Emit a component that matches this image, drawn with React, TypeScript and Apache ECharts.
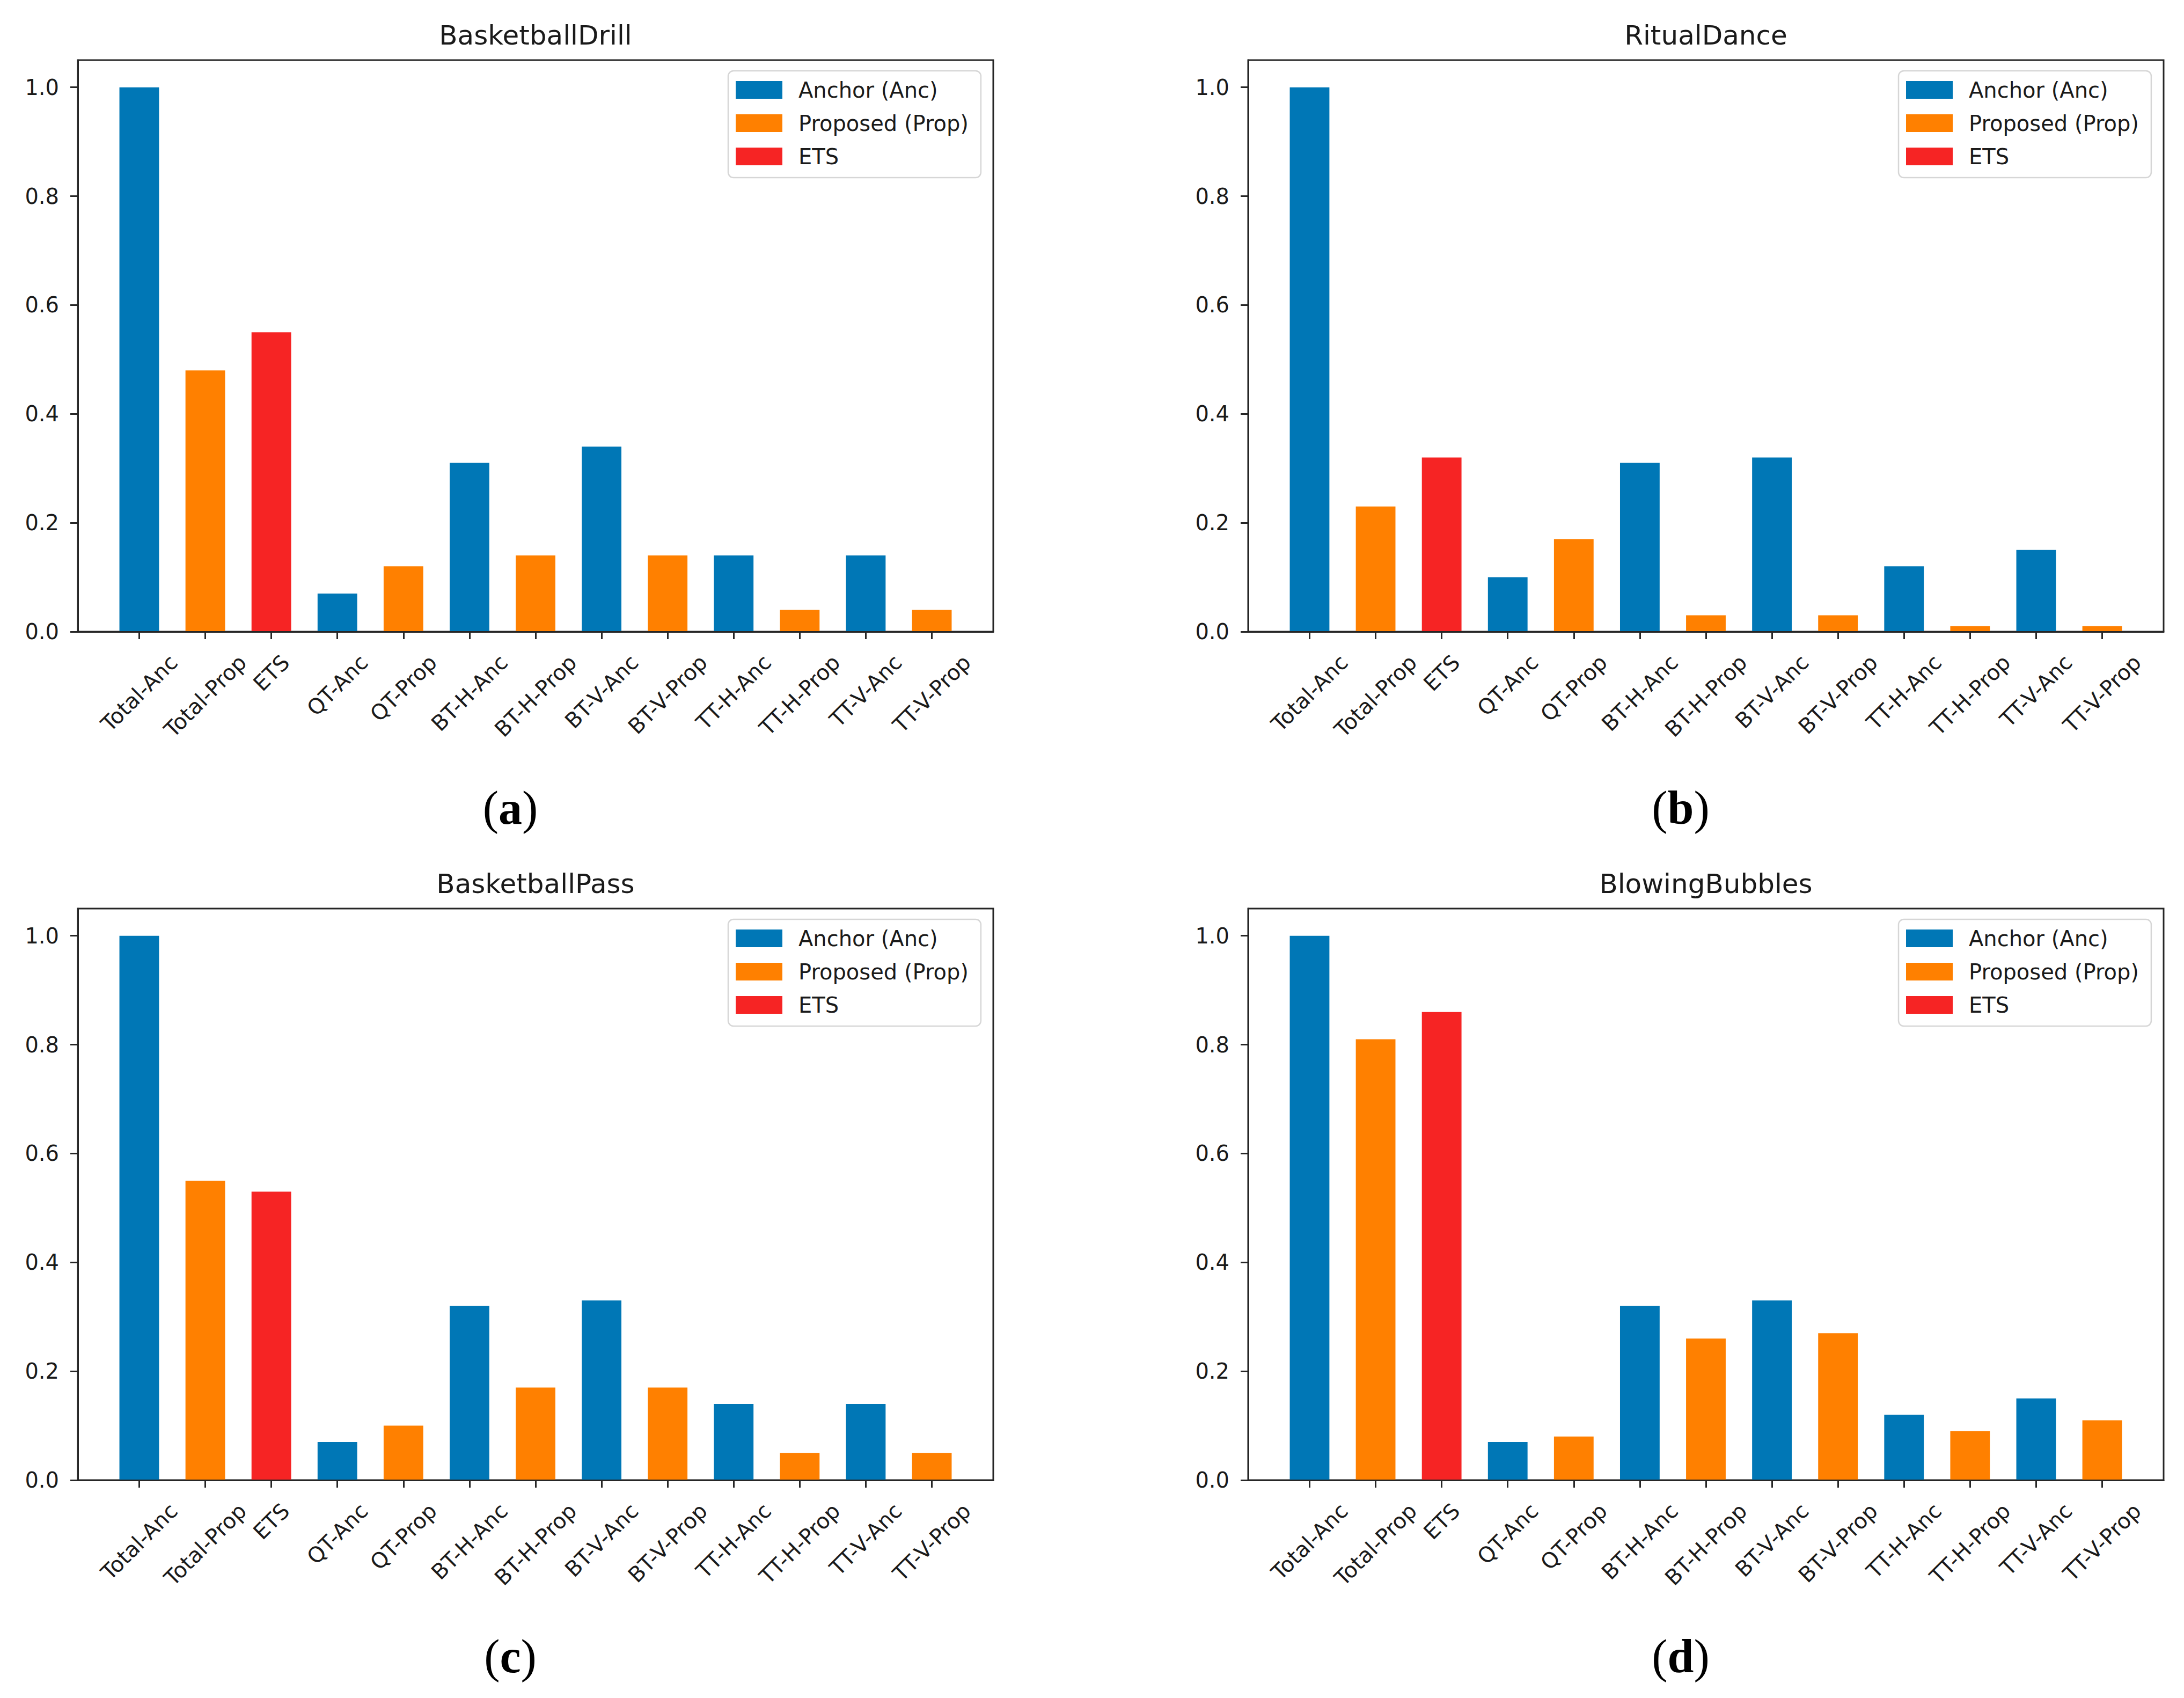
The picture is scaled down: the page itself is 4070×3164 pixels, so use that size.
import React, { useEffect, useRef } from "react";
import * as echarts from "echarts";

const categories = [
  "Total-Anc", "Total-Prop", "ETS", "QT-Anc", "QT-Prop", "BT-H-Anc", "BT-H-Prop",
  "BT-V-Anc", "BT-V-Prop", "TT-H-Anc", "TT-H-Prop", "TT-V-Anc", "TT-V-Prop",
];
const categoryKinds = ["Anc", "Prop", "ETS", "Anc", "Prop", "Anc", "Prop", "Anc", "Prop", "Anc", "Prop", "Anc", "Prop"];
const seriesNames = ["Anchor (Anc)", "Proposed (Prop)", "ETS"];
const seriesKinds = ["Anc", "Prop", "ETS"];
const seriesColors = ["#0077B6", "#FF8000", "#F62424"];
const panelTitles = ["BasketballDrill", "RitualDance", "BasketballPass", "BlowingBubbles"];
const panelLetters = ["a", "b", "c", "d"];
const basketballDrill = [1.0, 0.48, 0.55, 0.07, 0.12, 0.31, 0.14, 0.34, 0.14, 0.14, 0.04, 0.14, 0.04];
const ritualDance = [1.0, 0.23, 0.32, 0.10, 0.17, 0.31, 0.03, 0.32, 0.03, 0.12, 0.01, 0.15, 0.01];
const basketballPass = [1.0, 0.55, 0.53, 0.07, 0.10, 0.32, 0.17, 0.33, 0.17, 0.14, 0.05, 0.14, 0.05];
const blowingBubbles = [1.0, 0.81, 0.86, 0.07, 0.08, 0.32, 0.26, 0.33, 0.27, 0.12, 0.09, 0.15, 0.11];
const panelValues = [basketballDrill, ritualDance, basketballPass, blowingBubbles];
const yTicks = [0, 0.2, 0.4, 0.6, 0.8, 1.0];
const xTicks = categories.map((_, i) => i);

const W = 4070;
const H = 3164;
const FRAME_W = 1706;
const FRAME_H = 1065;
const LEFTS = [145, 2326];
const TOPS = [112, 1693];
const X_MIN = -0.93;
const X_MAX = 12.93;
const UNIT = FRAME_W / (X_MAX - X_MIN);
const BAR_W = 0.6 * UNIT;
const FS = 40;
const FONT = "DejaVu Sans";
const TEXT = "#1a1a1a";
const LINE = "#262626";

export default function App() {
  const ref = useRef<HTMLDivElement>(null);
  useEffect(() => {
    document.body.style.margin = "0";
    const chart = echarts.init(ref.current!, null, { renderer: "svg", width: W, height: H });

    const cv = document.createElement("canvas");
    const ctx = cv.getContext("2d")!;
    ctx.font = `${FS}px "${FONT}"`;
    const widths = categories.map((c) => ctx.measureText(c).width);
    const lmax = Math.max(...widths);
    const c45 = Math.SQRT1_2;
    const labelMargin = 34 + (46 + lmax) * c45 / 2;
    const rich: any = {};
    categories.forEach((_, i) => {
      const p = (lmax - widths[i]) / 2;
      rich["k" + i] = { fontSize: FS, fontFamily: FONT, color: TEXT, padding: [0, 0, p, p] };
    });

    const grids: any[] = [];
    const xAxes: any[] = [];
    const yAxes: any[] = [];
    const series: any[] = [];
    const legends: any[] = [];
    const graphics: any[] = [];

    panelValues.forEach((vals, g) => {
      const left = LEFTS[g % 2];
      const top = TOPS[Math.floor(g / 2)];
      grids.push({
        left, top, width: FRAME_W, height: FRAME_H, show: true,
        borderColor: LINE, borderWidth: 3, backgroundColor: "transparent",
      });
      xAxes.push({
        type: "value", gridIndex: g, min: X_MIN, max: X_MAX, z: 5,
        splitLine: { show: false },
        axisLine: { show: true, onZero: false, lineStyle: { color: LINE, width: 3 } },
        axisTick: { show: true, length: 14, customValues: xTicks, lineStyle: { color: LINE, width: 3 } },
        axisLabel: {
          customValues: xTicks, rotate: 45, align: "center", verticalAlign: "middle",
          margin: labelMargin, fontSize: FS, fontFamily: FONT, color: TEXT,
          formatter: (v: number) => {
            const i = Math.round(v);
            return Math.abs(v - i) < 1e-6 && categories[i] ? `{k${i}|${categories[i]}}` : "";
          },
          rich,
        },
      });
      yAxes.push({
        type: "value", gridIndex: g, min: 0, max: 1.05,
        splitLine: { show: false },
        axisLine: { show: true, onZero: false, lineStyle: { color: LINE, width: 3 } },
        axisTick: { show: true, length: 14, customValues: yTicks, lineStyle: { color: LINE, width: 3 } },
        axisLabel: {
          customValues: yTicks, margin: 35, fontSize: FS, fontFamily: FONT, color: TEXT,
          formatter: (v: number) => (Math.abs(v * 5 - Math.round(v * 5)) < 1e-6 ? v.toFixed(1) : ""),
        },
      });
      seriesKinds.forEach((kind, s) => {
        series.push({
          type: "bar", name: seriesNames[s], xAxisIndex: g, yAxisIndex: g,
          barWidth: BAR_W, barGap: "-100%",
          itemStyle: { color: seriesColors[s] },
          data: vals.map((v, i) => [i, v]).filter((_, i) => categoryKinds[i] === kind),
        });
      });
      legends.push({
        show: true, orient: "vertical", left: left + 1212, top: top + 20,
        icon: "rect", itemWidth: 87, itemHeight: 33, itemGap: 22,
        padding: [15.5, 23, 19.5, 14],
        backgroundColor: "#ffffff", borderColor: "#d6d6d6", borderWidth: 2.5, borderRadius: 10,
        textStyle: { fontSize: FS, fontFamily: FONT, color: TEXT, padding: [0, 0, 0, 25] },
        data: seriesNames,
      });
      graphics.push({
        type: "text", x: left + FRAME_W / 2, y: top - 46,
        style: { text: panelTitles[g], fill: TEXT, fontSize: 50, fontFamily: FONT, align: "center", verticalAlign: "middle" },
      });
      graphics.push({
        type: "text", x: left + 806, y: top + 1393,
        style: {
          text: `{p|(}{b|${panelLetters[g]}}{p|)}`, align: "center", verticalAlign: "middle",
          fontWeight: "normal",
          rich: {
            p: { fontSize: 88, fontFamily: "Liberation Serif", fontWeight: "normal", fill: "#000" },
            b: { fontSize: 88, fontFamily: "Liberation Serif", fontWeight: "bold", fill: "#000" },
          },
        },
      });
    });

    chart.setOption({
      animation: false,
      backgroundColor: "#ffffff",
      grid: grids,
      xAxis: xAxes,
      yAxis: yAxes,
      series,
      legend: legends,
      graphic: graphics,
    });
    return () => chart.dispose();
  }, []);
  return <div ref={ref} style={{ position: "absolute", left: 0, top: 0, width: W, height: H }} />;
}
